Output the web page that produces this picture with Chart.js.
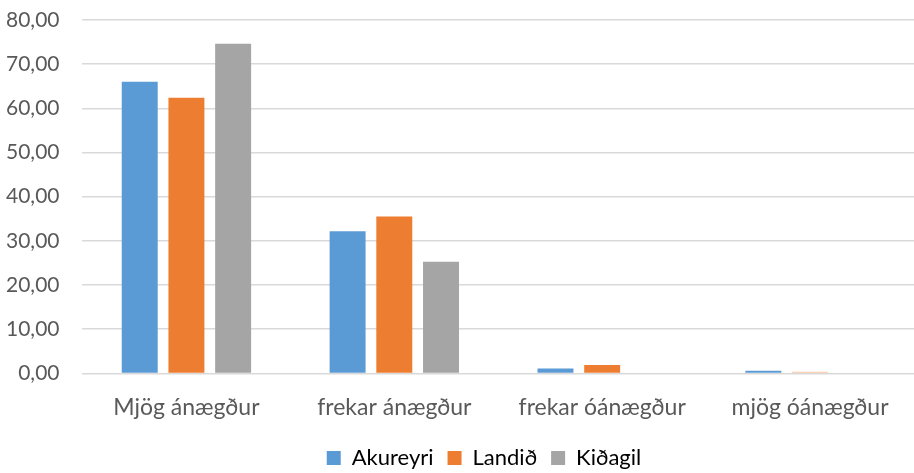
<!DOCTYPE html>
<html>
<head>
<meta charset="utf-8">
<script src="https://cdn.jsdelivr.net/npm/chart.js@4"></script>
<style>
  html, body { margin: 0; padding: 0; background: #fff; }
  #wrap { width: 914px; height: 473px; }
</style>
</head>
<body>
<div id="wrap"><canvas id="chart" width="914" height="473"></canvas></div>
<script>
// Gögn lesin af myndinni
const flokkar = ['Mjög ánægður', 'frekar ánægður', 'frekar óánægður', 'mjög óánægður'];
const akureyri = [66.0, 32.2, 1.1, 0.6];
const landid = [62.4, 35.5, 1.9, 0.4];
const kidagil = [74.6, 25.3, 0, 0];
const yTicks = [0, 10, 20, 30, 40, 50, 60, 70, 80];

const textColor = '#595959';
const fontFamily = 'Lato, "Open Sans", sans-serif';

Chart.defaults.font.family = fontFamily;
Chart.defaults.color = textColor;

// skýringin er aðeins hægra megin við miðju á frummyndinni
const legendShift = {
    id: 'legendShift',
    afterLayout(chart) {
        if (chart.legend) {
            chart.legend.left += 26;
            chart.legend.right += 26;
        }
    }
};

new Chart(document.getElementById('chart'), {
    type: 'bar',
    data: {
        labels: flokkar,
        datasets: [
            {
                label: 'Akureyri',
                data: akureyri,
                backgroundColor: '#5B9BD5'
            },
            {
                label: 'Landið',
                data: landid,
                // síðasti stöpullinn er ljósari á frummyndinni
                backgroundColor: ['#ED7D31', '#ED7D31', '#ED7D31', '#F7C3A0']
            },
            {
                label: 'Kiðagil',
                data: kidagil,
                backgroundColor: '#A5A5A5'
            }
        ]
    },
    plugins: [legendShift],
    options: {
        responsive: false,
        animation: false,
        layout: {
            padding: { top: 20, right: 0, left: 2, bottom: -6 }
        },
        datasets: {
            bar: {
                categoryPercentage: 0.674,
                barPercentage: 0.77
            }
        },
        plugins: {
            legend: {
                position: 'bottom',
                labels: {
                    boxWidth: 14,
                    boxHeight: 14,
                    padding: 14,
                    color: textColor,
                    font: { size: 22 },
                    // sama litur á reitnum fyrir Landið
                    generateLabels: (chart) => chart.data.datasets.map((ds, i) => ({
                        text: ds.label,
                        fillStyle: Array.isArray(ds.backgroundColor) ? ds.backgroundColor[0] : ds.backgroundColor,
                        strokeStyle: 'rgba(0,0,0,0)',
                        lineWidth: 0,
                        hidden: false,
                        datasetIndex: i
                    }))
                }
            },
            tooltip: { enabled: false }
        },
        scales: {
            x: {
                grid: { display: false },
                border: { display: false },
                ticks: {
                    color: textColor,
                    font: { size: 23 },
                    padding: 12
                }
            },
            y: {
                min: 0,
                max: 80,
                afterBuildTicks: (axis) => {
                    axis.ticks = yTicks.map(v => ({ value: v }));
                },
                grid: {
                    color: '#D9D9D9',
                    lineWidth: 1.5,
                    drawTicks: true,
                    tickLength: 19,
                    tickColor: 'rgba(0,0,0,0)'
                },
                border: { display: false },
                ticks: {
                    color: textColor,
                    font: { size: 21 },
                    padding: 4,
                    callback: (v) => v.toFixed(2).replace('.', ',')
                }
            }
        }
    }
});
</script>
</body>
</html>
